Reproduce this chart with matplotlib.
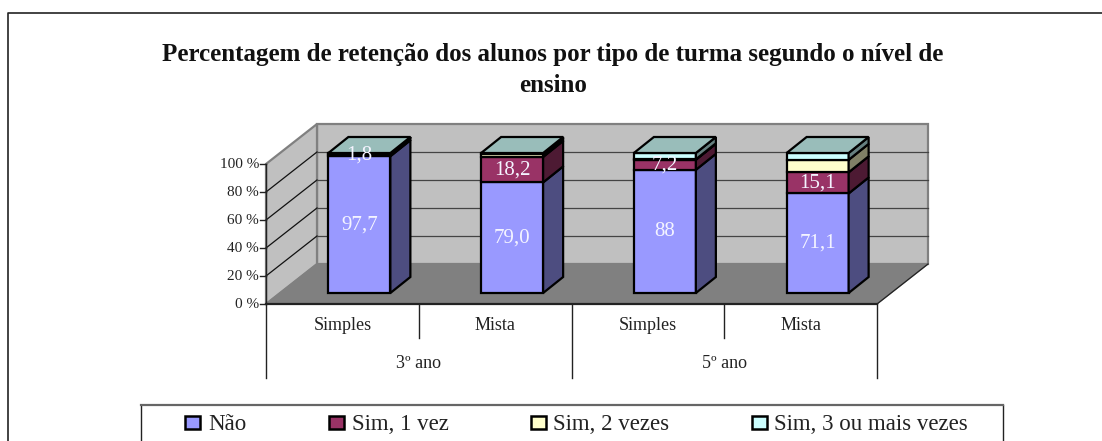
import matplotlib
matplotlib.use("Agg")
import matplotlib.pyplot as plt
from matplotlib.patches import Polygon, Rectangle

plt.rcParams['font.family'] = ['Liberation Serif', 'DejaVu Serif']

# ---- data ----
groups = ["3º ano", "5º ano"]
categories = ["Simples", "Mista", "Simples", "Mista"]
nao = [97.7, 79.0, 88.0, 71.1]
sim1 = [1.8, 18.2, 7.2, 15.1]
sim2 = [0.3, 1.8, 0.3, 8.9]
sim3 = [0.2, 1.0, 4.5, 4.9]
nao_labels = ["97,7", "79,0", "88", "71,1"]
sim1_labels = ["1,8", "18,2", "7,2", "15,1"]
series_names = ["Não", "Sim, 1 vez", "Sim, 2 vezes", "Sim, 3 ou mais vezes"]
yticks = [0, 20, 40, 60, 80, 100]
title_lines = ["Percentagem de retenção dos alunos por tipo de turma segundo o nível de", "ensino"]

# ---- styles ----
face = ["#9999FF", "#993366", "#FFFFCC", "#CCFFFF"]
side = ["#4D4D80", "#4D1A33", "#808066", "#668080"]
top_col = "#99BDBA"

W, H = 1102, 441
fig = plt.figure(figsize=(W / 100, H / 100), dpi=100)
ax = fig.add_axes([0, 0, 1, 1])

# Axes are in category units (x) and percent (y), so that the plot box matches the reference
x0_px, x1_px = 266.0, 877.0
y0_px, y100_px = 304.0, 164.0
px_x = (x1_px - x0_px) / 4
px_y = (y0_px - y100_px) / 100
ax.set_xlim(-x0_px / px_x, (W - x0_px) / px_x)
ax.set_ylim(-(H - y0_px) / px_y, y0_px / px_y)
ax.axis("off")

dep_x, dep_y = 51 / px_x, 40 / px_y          # full depth of the floor
bar_w = 62 / px_x
bar_off_x, bar_off_y = 17 / px_x, 11 / px_y  # front of bars relative to front of floor
bar_dx, bar_dy = 20 / px_x, 16 / px_y        # depth of bars
LW = 1.6
n = len(categories)

# walls and floor
ax.add_patch(Polygon([(dep_x, dep_y), (n + dep_x, dep_y), (n + dep_x, 100 + dep_y), (dep_x, 100 + dep_y)],
                     fc="#C0C0C0", ec="#808080", lw=1.6, zorder=1))
ax.add_patch(Polygon([(0, 0), (dep_x, dep_y), (dep_x, 100 + dep_y), (0, 100)],
                     fc="#C0C0C0", ec="#808080", lw=1.6, zorder=1))
ax.add_patch(Polygon([(0, 0), (n, 0), (n + dep_x, dep_y), (dep_x, dep_y)],
                     fc="#808080", ec="#808080", lw=1, zorder=2))
for t in yticks[1:-1]:
    ax.plot([0, dep_x], [t, t + dep_y], color="#111111", lw=0.9, zorder=1.5)
    ax.plot([dep_x, n + dep_x], [t + dep_y, t + dep_y], color="#444444", lw=0.9, zorder=1.5)

# floor front edge, right edge, value axis and ticks
ax.plot([0, n], [0, 0], color="#222222", lw=1.6, zorder=3)
ax.plot([n, n + dep_x], [0, dep_y], color="#222222", lw=0.9, zorder=3)
ax.plot([0, 0], [0, 100], color="#222222", lw=1.0, zorder=3)
for t in yticks:
    ax.plot([-6 / px_x, 0], [t, t], color="#222222", lw=1.0, zorder=3)
    ax.text(-7 / px_x, t, f"{t} %", ha="right", va="center", fontsize=11, color="#222222")

# multi-level category axis
for i in range(n + 1):
    depth = 74 if i % 2 == 0 else 34
    ax.plot([i, i], [0, -depth / px_y], color="#222222", lw=1.0, zorder=3)
for i, c in enumerate(categories):
    ax.text(i + 0.5, -22 / px_y, c, ha="center", va="center", fontsize=13, color="#222222")
for j, g in enumerate(groups):
    ax.text(2 * j + 1, -60 / px_y, g, ha="center", va="center", fontsize=13, color="#222222")

# stacked 3D bars
series = [nao, sim1, sim2, sim3]
for i in range(n):
    xl = i + 0.5 + bar_off_x - bar_w / 2
    xr = xl + bar_w
    base = 0.0
    for s, vals in enumerate(series):
        v = vals[i]
        yb = base + bar_off_y
        yt = yb + v
        ax.add_patch(Rectangle((xl, yb), bar_w, v, fc=face[s], ec="black", lw=LW, zorder=5, joinstyle="miter"))
        ax.add_patch(Polygon([(xr, yb), (xr + bar_dx, yb + bar_dy), (xr + bar_dx, yt + bar_dy), (xr, yt)],
                             fc=side[s], ec="black", lw=LW, zorder=5))
        base += v
    yt = base + bar_off_y
    ax.add_patch(Polygon([(xl, yt), (xr, yt), (xr + bar_dx, yt + bar_dy), (xl + bar_dx, yt + bar_dy)],
                         fc=top_col, ec="black", lw=LW, zorder=6))
    xc = xl + bar_w / 2
    ax.text(xc, bar_off_y + nao[i] / 2, nao_labels[i], ha="center", va="center",
            color="#F4F4FF", fontsize=15, zorder=7)
    ax.text(xc, bar_off_y + nao[i] + sim1[i] / 2, sim1_labels[i], ha="center", va="center",
            color="#F4F4FF", fontsize=15, zorder=7)

# outer frame, title, legend (figure pixels)
def fx(p): return p / W
def fy(p): return 1 - p / H

fig.add_artist(plt.Line2D([fx(7.5), fx(7.5), 1], [0, fy(13), fy(13)], color="#222222", lw=1.2))
fig.text(fx(553), fy(55), title_lines[0], ha="center", va="center", fontsize=18, fontweight="bold", color="#111111")
fig.text(fx(553), fy(85), title_lines[1], ha="center", va="center", fontsize=18, fontweight="bold", color="#111111")

fig.add_artist(plt.Line2D([fx(141), fx(141)], [0, fy(405)], color="#222222", lw=1.0))
fig.add_artist(plt.Line2D([fx(1003), fx(1003)], [0, fy(405)], color="#222222", lw=1.0))
fig.add_artist(plt.Line2D([fx(141), fx(1003)], [fy(405), fy(405)], color="#666666", lw=1.6))
swatch_x = [185, 329, 531, 752]
text_x = [208, 352, 553, 774]
for s, name in enumerate(series_names):
    fig.add_artist(Rectangle((fx(swatch_x[s]), fy(429)), 15 / W, 13 / H, transform=fig.transFigure,
                             fc=face[s], ec="black", lw=1.8))
    fig.text(fx(text_x[s]), fy(424.5), name, ha="left", va="center", fontsize=16.5, color="#222222")

fig.savefig("out.png", dpi=100)
